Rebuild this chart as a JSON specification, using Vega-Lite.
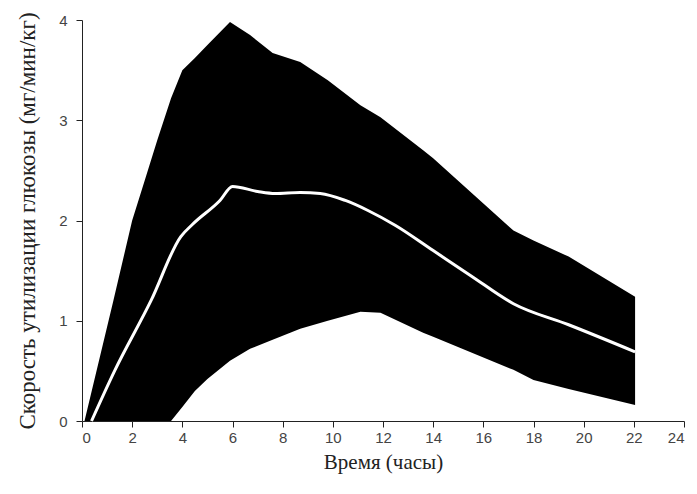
{
  "$schema": "https://vega.github.io/schema/vega-lite/v6.json",
  "width": 602,
  "height": 401,
  "autosize": {"type": "none"},
  "padding": {"left": 82, "top": 20, "right": 13, "bottom": 73},
  "background": "white",
  "config": {"view": {"stroke": null}},
  "datasets": {
    "band": [
      {"t": 0.1, "lo": 0, "hi": 0},
      {"t": 1.25, "lo": 0, "hi": 1.2},
      {"t": 2.0, "lo": 0, "hi": 2.0},
      {"t": 2.5, "lo": 0, "hi": 2.4},
      {"t": 3.0, "lo": 0, "hi": 2.8},
      {"t": 3.55, "lo": 0, "hi": 3.22},
      {"t": 4.0, "lo": 0.14, "hi": 3.5},
      {"t": 4.5, "lo": 0.3, "hi": 3.62},
      {"t": 5.0, "lo": 0.42, "hi": 3.75},
      {"t": 5.9, "lo": 0.6, "hi": 3.98},
      {"t": 6.7, "lo": 0.72, "hi": 3.85},
      {"t": 7.6, "lo": 0.81, "hi": 3.67},
      {"t": 8.7, "lo": 0.92, "hi": 3.58},
      {"t": 9.8, "lo": 1.0, "hi": 3.4},
      {"t": 11.1, "lo": 1.09, "hi": 3.15},
      {"t": 11.9, "lo": 1.08, "hi": 3.03},
      {"t": 13.6, "lo": 0.88, "hi": 2.7},
      {"t": 14.0, "lo": 0.84, "hi": 2.62},
      {"t": 17.2, "lo": 0.51, "hi": 1.9},
      {"t": 18.0, "lo": 0.41, "hi": 1.8},
      {"t": 19.4, "lo": 0.32, "hi": 1.64},
      {"t": 22.05, "lo": 0.16, "hi": 1.24}
    ],
    "mean": [
      {"t": 0.38, "v": 0},
      {"t": 1.3, "v": 0.5},
      {"t": 2.75, "v": 1.2},
      {"t": 3.94, "v": 1.84},
      {"t": 4.4, "v": 1.96},
      {"t": 5.5, "v": 2.2},
      {"t": 6.0, "v": 2.34},
      {"t": 7.0, "v": 2.29},
      {"t": 7.7, "v": 2.27},
      {"t": 8.7, "v": 2.28},
      {"t": 9.5, "v": 2.27},
      {"t": 10.5, "v": 2.2},
      {"t": 11.4, "v": 2.1},
      {"t": 12.5, "v": 1.95},
      {"t": 14.0, "v": 1.7},
      {"t": 15.5, "v": 1.45},
      {"t": 17.2, "v": 1.17},
      {"t": 19.4, "v": 0.96},
      {"t": 22.05, "v": 0.69}
    ]
  },
  "layer": [
    {
      "data": {"name": "band"},
      "mark": {"type": "area", "color": "black", "interpolate": "linear"},
      "encoding": {
        "x": {
          "field": "t", "type": "quantitative",
          "scale": {"domain": [0, 24], "nice": false},
          "axis": {
            "title": "Время (часы)",
            "values": [0,1,2,3,4,5,6,7,8,9,10,11,12,13,14,15,16,17,18,19,20,21,22,23,24],
            "labelExpr": "datum.value % 2 == 0 ? datum.label : ''",
            "grid": false,
            "domainColor": "#222", "tickColor": "#222",
            "tickSize": 6, "labelPadding": 3,
            "labelFont": "Liberation Sans", "labelFontSize": 15, "labelColor": "#444",
            "titleFont": "Liberation Serif", "titleFontSize": 21, "titleFontWeight": "normal", "titleColor": "#222",
            "titlePadding": 6
          }
        },
        "y": {
          "field": "lo", "type": "quantitative",
          "scale": {"domain": [0, 4], "nice": false},
          "axis": {
            "title": "Скорость утилизации глюкозы (мг/мин/кг)",
            "values": [0, 1, 2, 3, 4],
            "format": "d",
            "grid": false,
            "domainColor": "#222", "tickColor": "#222",
            "tickSize": 6, "labelPadding": 9,
            "labelFont": "Liberation Sans", "labelFontSize": 15, "labelColor": "#444",
            "titleFont": "Liberation Serif", "titleFontSize": 23, "titleFontWeight": "normal", "titleColor": "#222",
            "titlePadding": 19
          }
        },
        "y2": {"field": "hi"}
      }
    },
    {
      "data": {"name": "mean"},
      "mark": {"type": "line", "color": "white", "strokeWidth": 3, "interpolate": "monotone"},
      "encoding": {
        "x": {"field": "t", "type": "quantitative"},
        "y": {"field": "v", "type": "quantitative"}
      }
    }
  ]
}
